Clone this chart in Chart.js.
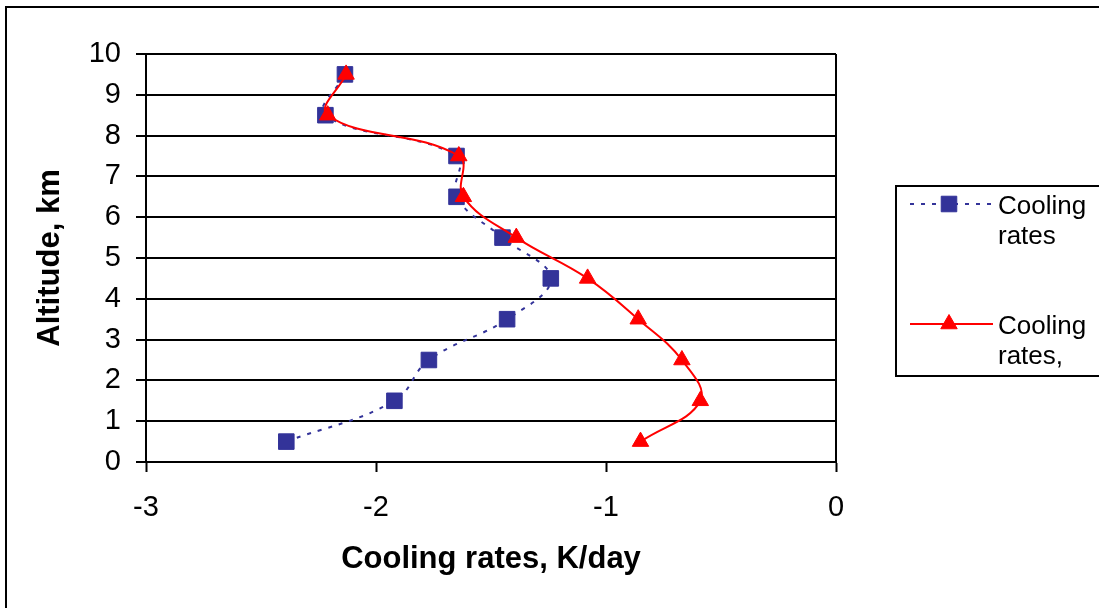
<!DOCTYPE html>
<html lang="en">
<head>
    <meta charset="UTF-8">
    <title>Cooling rates</title>
    <style>
        html, body { margin: 0; padding: 0; background: #fff; }
        #wrap { width: 1099px; height: 608px; position: relative; }
    </style>
</head>
<body>
    <div id="wrap">
        <canvas id="myChart" width="1099" height="608"></canvas>
    </div>

    <script src="https://cdn.jsdelivr.net/npm/chart.js"></script>
    <script>
    "use strict"

    // values
    const altitude = [0.5, 1.5, 2.5, 3.5, 4.5, 5.5, 6.5, 7.5, 8.5, 9.5]
    const rates_a = [-2.39, -1.92, -1.77, -1.43, -1.24, -1.45, -1.65, -1.65, -2.22, -2.135]
    const rates_b = [-0.85, -0.59, -0.67, -0.86, -1.08, -1.39, -1.62, -1.64, -2.21, -2.13]
    const x_ticks = [-3, -2, -1, 0]
    const y_ticks = [0, 1, 2, 3, 4, 5, 6, 7, 8, 9, 10]
    const series_names = [["Cooling", "rates"], ["Cooling", "rates,"]]

    const FONT = "'Liberation Sans', Arial, sans-serif"
    const BLUE = "#333399"
    const RED = "#ff0000"

    function toPoints(xs){
        return xs.map((v, i) => ({ x: v, y: altitude[i] }))
    }

    // outer frame, right border of the plot and the boxed legend
    const framePlugin = {
        id: "frame",
        afterDraw(chart) {
            const c = chart.ctx
            const area = chart.chartArea
            c.save()
            c.strokeStyle = "#000"
            c.lineWidth = 2
            c.setLineDash([])
            c.strokeRect(6, 7, 1200, 700)

            c.beginPath()
            c.moveTo(area.right, area.top)
            c.lineTo(area.right, area.bottom)
            c.stroke()

            // legend
            c.strokeRect(896, 186, 400, 190)
            const rows = [204, 324]
            const textY = [[207, 237], [327, 357]]
            chart.data.datasets.forEach((ds, i) => {
                const y = rows[i]
                c.save()
                c.strokeStyle = ds.borderColor
                c.lineWidth = 2
                c.setLineDash(ds.borderDash || [])
                c.beginPath()
                c.moveTo(910, y)
                c.lineTo(993, y)
                c.stroke()
                c.restore()
                c.save()
                c.fillStyle = ds.pointBackgroundColor
                c.strokeStyle = ds.pointBorderColor
                c.lineWidth = 1
                Chart.helpers.drawPoint(c, {
                    pointStyle: ds.pointStyle,
                    radius: ds.pointRadius,
                    rotation: 0,
                    borderWidth: 1
                }, 949, y)
                c.restore()

                c.fillStyle = "#000"
                c.font = "26px " + FONT
                c.textBaseline = "middle"
                c.textAlign = "left"
                series_names[i].forEach((t, k) => c.fillText(t, 998, textY[i][k]))
            })
            c.restore()
        }
    }

    const ctx = document.getElementById("myChart")

    let graph = new Chart(ctx, {
        type: "scatter",
        data: {
            datasets: [
                {
                    label: "Cooling rates",
                    data: toPoints(rates_a),
                    showLine: true,
                    tension: 0.4,
                    borderColor: BLUE,
                    borderWidth: 2,
                    borderDash: [4, 7],
                    pointStyle: "rect",
                    pointRadius: 11,
                    pointBackgroundColor: BLUE,
                    pointBorderColor: BLUE,
                    pointBorderWidth: 1,
                    order: 2
                },
                {
                    label: "Cooling rates,",
                    data: toPoints(rates_b),
                    showLine: true,
                    tension: 0.4,
                    borderColor: RED,
                    borderWidth: 2,
                    pointStyle: "triangle",
                    pointRadius: 9.5,
                    pointBackgroundColor: RED,
                    pointBorderColor: RED,
                    pointBorderWidth: 1,
                    order: 1
                }
            ]
        },
        options: {
            responsive: false,
            animation: false,
            events: [],
            layout: {
                padding: { top: 54, right: 263, left: 0, bottom: 0 }
            },
            plugins: {
                legend: { display: false },
                tooltip: { enabled: false }
            },
            scales: {
                x: {
                    type: "linear",
                    min: x_ticks[0],
                    max: x_ticks[x_ticks.length - 1],
                    afterBuildTicks(scale) {
                        scale.ticks = x_ticks.map(v => ({ value: v }))
                    },
                    afterFit(scale) {
                        scale.height = 146
                    },
                    grid: {
                        drawOnChartArea: false,
                        drawTicks: true,
                        tickLength: 10,
                        tickWidth: 2,
                        tickColor: "#000"
                    },
                    border: { color: "#000", width: 2 },
                    ticks: {
                        color: "#000",
                        padding: 19,
                        maxRotation: 0,
                        font: { family: FONT, size: 29 }
                    },
                    title: {
                        display: true,
                        text: "Cooling rates, K/day",
                        color: "#000",
                        padding: { top: 0, bottom: 30 },
                        font: { family: FONT, size: 31, weight: "bold" }
                    }
                },
                y: {
                    type: "linear",
                    min: y_ticks[0],
                    max: y_ticks[y_ticks.length - 1],
                    afterBuildTicks(scale) {
                        scale.ticks = y_ticks.map(v => ({ value: v }))
                    },
                    afterFit(scale) {
                        scale.width = 146
                    },
                    grid: {
                        color: "#000",
                        lineWidth: 2,
                        drawTicks: true,
                        tickLength: 10
                    },
                    border: { color: "#000", width: 2 },
                    ticks: {
                        color: "#000",
                        padding: 15,
                        font: { family: FONT, size: 29 }
                    },
                    title: {
                        display: true,
                        text: "Altitude, km",
                        color: "#000",
                        padding: { top: 32, bottom: 0 },
                        font: { family: FONT, size: 31, weight: "bold" }
                    }
                }
            }
        },
        plugins: [framePlugin]
    })
    </script>
</body>
</html>
